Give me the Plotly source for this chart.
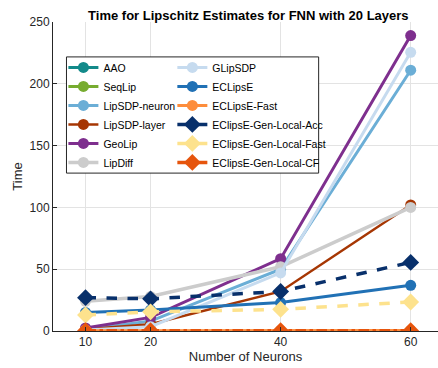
import plotly.graph_objects as go

neurons = [10, 20, 40, 60]

names = ["AAO", "SeqLip", "LipSDP-neuron", "LipSDP-layer", "GeoLip", "LipDiff",
         "GLipSDP", "ECLipsE", "ECLipsE-Fast", "EClipsE-Gen-Local-Acc",
         "EClipsE-Gen-Local-Fast", "EClipsE-Gen-Local-CF"]

aao = [None, None, None, None]
seqlip = [None, None, None, None]
lipsdp_neuron = [1.0, 8.0, 50.0, 211.0]
lipsdp_layer = [1.5, 5.5, 32.0, 102.0]
geolip = [2.5, 11.0, 58.5, 239.0]
lipdiff = [24.0, 28.0, 52.0, 100.0]
glipsdp = [0.8, 3.5, 47.0, 225.5]
eclipse = [15.0, 17.0, 23.0, 37.0]
eclipse_fast = [0.3, 0.3, 0.4, 0.5]
gen_acc = [27.0, 26.0, 32.0, 55.5]
gen_fast = [13.0, 15.5, 17.5, 23.5]
gen_cf = [0.2, 0.2, 0.3, 0.3]

series = [aao, seqlip, lipsdp_neuron, lipsdp_layer, geolip, lipdiff,
          glipsdp, eclipse, eclipse_fast, gen_acc, gen_fast, gen_cf]

colors = ["#138a8a", "#77ac30", "#6baed6", "#a63603", "#7e2f8e", "#cccccc",
          "#c6dbef", "#2171b5", "#fd8d3c", "#08306b", "#fde28d", "#e6550d"]
symbols = ["circle"] * 9 + ["diamond"] * 3
dashes = ["solid"] * 9 + ["dash", "dash", "dashdot"]
widths = [3, 3, 3, 2.5, 3, 3.5, 3, 3, 3, 3.5, 3.5, 3.5]
msizes = [11] * 9 + [13, 13, 13]

fig = go.Figure()
for i, (n, y) in enumerate(zip(names, series)):
    fig.add_trace(go.Scatter(
        x=neurons, y=y, name=n, mode="lines+markers",
        line=dict(color=colors[i], width=widths[i], dash=dashes[i]),
        marker=dict(color=colors[i], symbol=symbols[i], size=msizes[i]),
        legend="legend" if i < 6 else "legend2",
    ))

font = "Liberation Sans, Arial, Helvetica, sans-serif"
legend_common = dict(
    font=dict(family=font, size=10.5, color="#000000"),
    bgcolor="rgba(0,0,0,0)", borderwidth=0,
    yanchor="top", xanchor="left", tracegroupgap=0,
    itemwidth=30,
)

fig.update_layout(
    width=438, height=368,
    margin=dict(l=53, r=0, t=22, b=37),
    plot_bgcolor="white", paper_bgcolor="white",
    font=dict(family=font, size=12, color="#262626"),
    title=dict(text="<b>Time for Lipschitz Estimates for FNN with 20 Layers</b>",
               x=0.567, xanchor="center", y=0.959, yanchor="middle",
               font=dict(size=13, color="#000000", family=font)),
    xaxis=dict(range=[5, 64.2], tickvals=neurons, showgrid=True,
               gridcolor="#e3e3e3", gridwidth=1, zeroline=False,
               showline=True, linecolor="#262626", linewidth=1,
               ticks="inside", ticklen=4, tickcolor="#262626",
               automargin=False,
               title=dict(text="Number of Neurons", standoff=3,
                          font=dict(size=13, color="#262626")),
               tickfont=dict(size=12, color="#262626")),
    yaxis=dict(range=[0, 250], tickvals=[0, 50, 100, 150, 200, 250],
               showgrid=True, gridcolor="#e3e3e3", gridwidth=1, zeroline=False,
               showline=True, linecolor="#262626", linewidth=1,
               ticks="inside", ticklen=4, tickcolor="#262626",
               automargin=False,
               title=dict(text="Time", standoff=4,
                          font=dict(size=13, color="#262626")),
               tickfont=dict(size=12, color="#262626")),
    legend=dict(x=0.027, y=0.9, **legend_common),
    legend2=dict(x=0.31, y=0.9, **legend_common),
    showlegend=True,
)

fig.add_shape(type="rect", xref="paper", yref="paper",
              x0=0.035, x1=0.69, y0=0.511, y1=0.887,
              line=dict(color="#262626", width=1), fillcolor="white",
              layer="above")

fig.write_html("out.html",
               config={"displayModeBar": False},
               post_script="document.body.style.margin='0';"
                           "document.body.style.padding='0';")
